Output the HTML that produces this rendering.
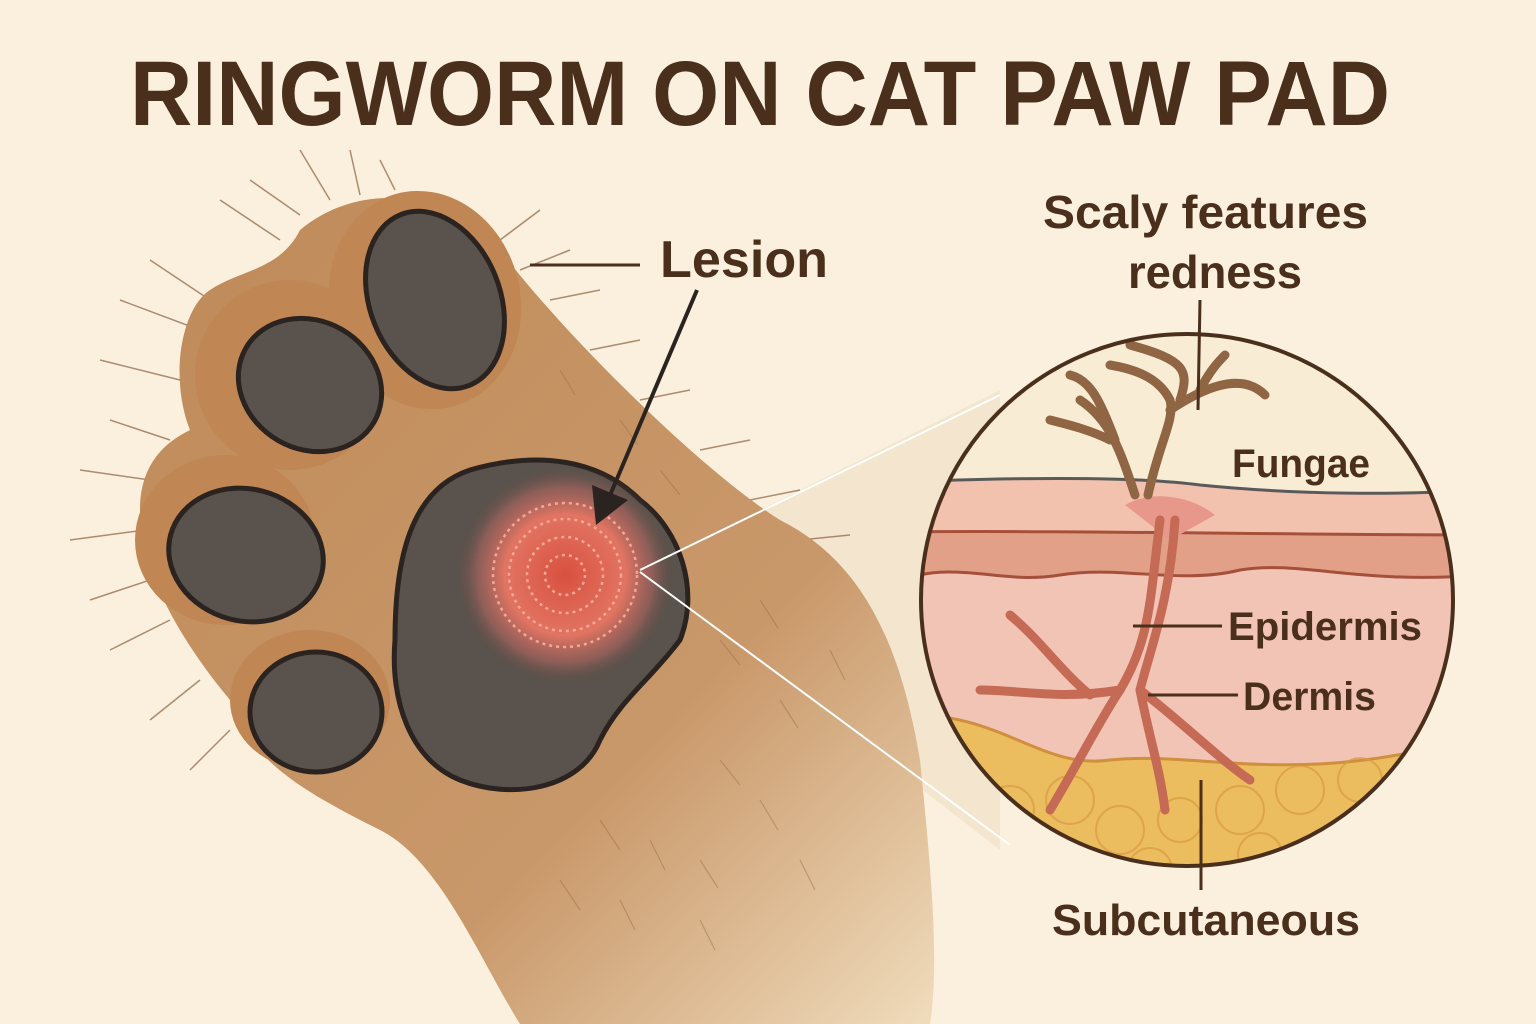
<!DOCTYPE html>
<html><head><meta charset="utf-8"><style>
html,body{margin:0;padding:0;background:#fbf0dd;}
svg{display:block}
text{font-family:"Liberation Sans",sans-serif;fill:#4a301c;}
</style></head><body>
<svg width="1536" height="1024" viewBox="0 0 1536 1024" xmlns="http://www.w3.org/2000/svg">
<defs>
<clipPath id="cc"><circle cx="1187" cy="600" r="266"/></clipPath>
<radialGradient id="les" cx="0.5" cy="0.5" r="0.5">
<stop offset="0" stop-color="#d9503f"/><stop offset="0.55" stop-color="#e27462"/><stop offset="0.8" stop-color="#b06660" stop-opacity="0.6"/><stop offset="1" stop-color="#5a4a45" stop-opacity="0"/></radialGradient>
<linearGradient id="arm" x1="0" y1="0" x2="1" y2="1"><stop offset="0" stop-color="#bf8a58"/><stop offset="0.65" stop-color="#c9986a"/><stop offset="1" stop-color="#f0dcbc"/></linearGradient>
</defs>
<rect width="1536" height="1024" fill="#fbf0dd"/>
<text x="760" y="125" text-anchor="middle" font-size="92" font-weight="bold" textLength="1260" lengthAdjust="spacingAndGlyphs">RINGWORM ON CAT PAW PAD</text>
<!-- zoom cone -->
<polygon points="640,570 1000,390 1000,850" fill="#efe0c8" opacity="0.7"/>
<!-- fur hairs -->
<g stroke="#8a6040" stroke-width="1.5" opacity="0.7" fill="none">
<path d="M330,200 L300,150 M360,195 L350,150 M395,190 L380,160 M300,215 L250,180 M280,240 L220,200 M210,300 L150,260 M200,330 L120,300 M180,380 L100,360 M170,440 L110,420 M150,480 L80,470 M145,530 L70,540 M150,580 L90,600 M170,620 L110,650 M200,680 L150,720 M230,730 L190,770 M500,240 L540,210 M520,270 L570,250 M550,300 L600,290 M590,350 L640,340 M640,400 L690,390 M700,450 L750,440 M750,500 L800,490 M800,540 L850,535"/>
</g>
<!-- arm -->
<path d="M300,230 C360,180 450,190 500,250 C560,330 700,470 780,520 C860,560 900,640 920,760 C930,860 940,960 930,1024 L520,1024 C480,960 440,860 380,830 C300,790 250,760 230,700 C180,640 140,570 140,510 C140,460 170,440 190,430 C170,380 180,310 210,290 C240,270 280,270 300,230 Z" fill="url(#arm)"/>
<g stroke="#9a6a42" stroke-width="1.2" opacity="0.45" fill="none">
<path d="M600,820 l20,30 M650,840 l15,30 M700,860 l18,28 M560,880 l20,30 M620,900 l15,30 M700,920 l15,30 M760,800 l18,30 M800,860 l15,30 M720,760 l20,25 M780,700 l18,28 M830,650 l15,30 M720,640 l20,25 M760,600 l18,28 M660,470 l20,25 M620,420 l18,25 M560,370 l15,25"/>
</g>
<!-- toes outlines -->
<ellipse cx="425" cy="300" rx="95" ry="110" fill="#c08654" transform="rotate(-15 425 300)"/>
<ellipse cx="290" cy="375" rx="95" ry="95" fill="#c08654"/>
<ellipse cx="225" cy="540" rx="90" ry="85" fill="#c08654"/>
<ellipse cx="310" cy="700" rx="80" ry="70" fill="#c08654"/>
<!-- toe pads -->
<ellipse cx="435" cy="300" rx="65" ry="92" fill="#5a524c" stroke="#2b2320" stroke-width="5" transform="rotate(-22 435 300)"/>
<ellipse cx="310" cy="385" rx="74" ry="64" fill="#5a524c" stroke="#2b2320" stroke-width="5" transform="rotate(30 310 385)"/>
<ellipse cx="246" cy="555" rx="78" ry="66" fill="#5a524c" stroke="#2b2320" stroke-width="5" transform="rotate(15 246 555)"/>
<ellipse cx="316" cy="712" rx="66" ry="60" fill="#5a524c" stroke="#2b2320" stroke-width="5"/>
<!-- main pad -->
<path d="M470,470 C540,450 600,460 640,500 C680,530 700,590 680,640 C650,680 620,700 600,740 C580,790 510,800 460,780 C410,760 390,700 395,640 C395,560 410,490 470,470 Z" fill="#5a524c" stroke="#2b2320" stroke-width="5"/>
<circle cx="565" cy="575" r="110" fill="url(#les)"/>
<g fill="none" stroke="#f3a896" stroke-width="2.5" stroke-dasharray="3 4">
<circle cx="565" cy="575" r="20"/><circle cx="565" cy="575" r="38"/><circle cx="565" cy="575" r="56"/><circle cx="565" cy="575" r="72"/>
</g>
<!-- lesion label -->
<line x1="530" y1="265" x2="640" y2="265" stroke="#4a301c" stroke-width="3"/>
<text x="660" y="277" font-size="52" font-weight="bold" textLength="168" lengthAdjust="spacingAndGlyphs">Lesion</text>
<line x1="697" y1="290" x2="608" y2="500" stroke="#2b2320" stroke-width="4"/>
<polygon points="596,525 592,485 628,500" fill="#2b2320"/>
<line x1="640" y1="570" x2="1000" y2="395" stroke="#fff" stroke-width="2"/>
<line x1="640" y1="572" x2="1010" y2="845" stroke="#fff" stroke-width="2"/>
<!-- circle content -->
<g clip-path="url(#cc)">
<rect x="900" y="320" width="580" height="580" fill="#f8ecd4"/>
<path d="M900,482 C1050,476 1150,478 1200,485 C1300,495 1400,495 1480,490 L1480,900 L900,900 Z" fill="#f2c2ae" stroke="#5a5a5a" stroke-width="3"/>
<path d="M900,532 C1050,530 1300,535 1480,535 L1480,900 L900,900Z" fill="#e3a089" stroke="#a5503a" stroke-width="3"/>
<path d="M900,580 C960,560 1000,585 1060,575 C1120,565 1180,585 1240,570 C1300,560 1360,585 1480,575 L1480,900 L900,900Z" fill="#f2c4b6" stroke="#a5503a" stroke-width="3"/>
<path d="M900,715 C1000,710 1040,770 1110,760 C1200,750 1300,790 1480,735 L1480,900 L900,900Z" fill="#ebbd5e" stroke="#d08f3d" stroke-width="3"/>
<g fill="none" stroke="#d99a45" stroke-width="2" opacity="0.7">
<circle cx="960" cy="790" r="22"/><circle cx="1010" cy="810" r="24"/><circle cx="1070" cy="800" r="24"/><circle cx="1120" cy="830" r="24"/><circle cx="1180" cy="820" r="22"/><circle cx="1240" cy="810" r="24"/><circle cx="1300" cy="790" r="24"/><circle cx="1360" cy="780" r="22"/><circle cx="1030" cy="855" r="22"/><circle cx="1150" cy="870" r="22"/><circle cx="1260" cy="855" r="22"/>
</g>
<path d="M1125,505 C1150,490 1190,495 1215,515 L1170,540 Z" fill="#e8988a"/>
<g stroke="#c56a55" stroke-width="9" fill="none" stroke-linecap="round">
<path d="M1160,520 C1150,600 1150,640 1120,690 C1100,720 1080,760 1050,810"/>
<path d="M1175,520 C1170,600 1150,650 1140,690 C1150,740 1160,770 1165,810"/>
<path d="M1140,690 C1180,720 1220,760 1250,780"/>
<path d="M1120,690 C1060,700 1020,690 980,690"/>
<path d="M1090,695 C1060,670 1040,640 1010,615"/>
</g>
<g stroke="#8f6544" stroke-width="9" fill="none" stroke-linecap="round">
<path d="M1135,495 C1120,450 1110,420 1080,400 M1110,440 C1090,430 1070,425 1050,420 M1115,440 C1100,400 1090,380 1070,375"/>
<path d="M1148,495 C1160,440 1175,420 1170,400 C1160,380 1140,370 1110,365 M1170,410 C1200,390 1240,370 1265,395 M1180,400 C1190,370 1185,360 1130,345 M1200,390 C1210,370 1220,360 1225,355"/>
</g>
</g>
<circle cx="1187" cy="600" r="266" fill="none" stroke="#4a301c" stroke-width="4"/>
<line x1="1200" y1="300" x2="1198" y2="410" stroke="#4a301c" stroke-width="3"/>
<text x="1043" y="228" font-size="46" font-weight="bold" textLength="325" lengthAdjust="spacingAndGlyphs">Scaly features</text>
<text x="1128" y="288" font-size="46" font-weight="bold" textLength="174" lengthAdjust="spacingAndGlyphs">redness</text>
<text x="1232" y="477" font-size="40" font-weight="bold" textLength="138" lengthAdjust="spacingAndGlyphs">Fungae</text>
<line x1="1133" y1="626" x2="1222" y2="626" stroke="#4a301c" stroke-width="3"/>
<text x="1228" y="640" font-size="40" font-weight="bold" textLength="194" lengthAdjust="spacingAndGlyphs">Epidermis</text>
<line x1="1148" y1="695" x2="1238" y2="695" stroke="#4a301c" stroke-width="3"/>
<text x="1243" y="710" font-size="40" font-weight="bold" textLength="133" lengthAdjust="spacingAndGlyphs">Dermis</text>
<line x1="1201" y1="780" x2="1201" y2="890" stroke="#4a301c" stroke-width="3"/>
<text x="1052" y="935" font-size="44" font-weight="bold" textLength="308" lengthAdjust="spacingAndGlyphs">Subcutaneous</text>
</svg>
</body></html>
